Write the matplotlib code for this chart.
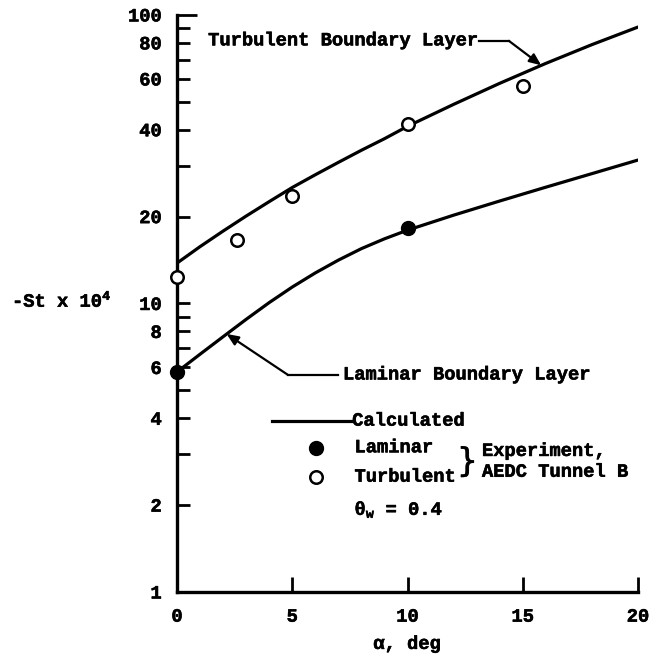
import numpy as np
import matplotlib
matplotlib.use("Agg")
import matplotlib.pyplot as plt
import matplotlib.patheffects as pe
from matplotlib.text import Text
from matplotlib.ticker import FixedLocator, FixedFormatter, NullLocator

plt.rcParams['font.family'] = ['Liberation Mono', 'DejaVu Sans Mono']
plt.rcParams['font.weight'] = 'bold'
plt.rcParams['axes.labelweight'] = 'bold'
plt.rcParams['mathtext.fontset'] = 'custom'
plt.rcParams['mathtext.rm'] = 'Liberation Mono:bold'
plt.rcParams['mathtext.it'] = 'Liberation Mono:bold:italic'
plt.rcParams['mathtext.bf'] = 'Liberation Mono:bold'
plt.rcParams['mathtext.default'] = 'regular'

# Calculated Stanton number (x 10^4) vs angle of attack
alpha_calc = [0, 1, 2, 3, 4, 5, 6, 7, 8, 9, 10, 12, 14, 16, 18, 20]
st_turb_calc = [13.80, 15.74, 17.82, 20.09, 22.54, 25.23, 27.93, 30.83, 33.96,
                37.24, 41.11, 48.98, 57.94, 67.92, 78.89, 90.78]
st_lam_calc = [5.79, 6.67, 7.67, 8.81, 10.07, 11.40, 12.76, 14.13, 15.49,
               16.75, 17.95, 20.23, 22.65, 25.29, 28.18, 31.41]

# Experiment, AEDC Tunnel B
alpha_lam_exp = [0, 10]
st_lam_exp = [5.8, 18.3]
alpha_turb_exp = [0, 2.6, 5, 10, 15]
st_turb_exp = [12.4, 16.6, 23.6, 41.9, 56.7]

y_ticks = [1, 2, 3, 4, 5, 6, 7, 8, 9, 10, 20, 30, 40, 50, 60, 70, 80, 90, 100]
y_labels = ['1', '2', '', '4', '', '6', '', '8', '', '10', '20', '', '40', '',
            '60', '', '80', '', '100']
x_ticks = [0, 5, 10, 15, 20]
x_labels = ['0', '5', '10', '15', '20']

FS = 13.5
LW = 2.3

fig = plt.figure(figsize=(6.52, 6.55), dpi=100)
ax = fig.add_axes([0.2715, 0.0962, 0.707, 0.881])
ax.set_yscale('log')
ax.set_xlim(0, 20)
ax.set_ylim(1, 100)

ax.plot(alpha_calc, st_turb_calc, color='black', lw=LW, solid_capstyle='round',
        solid_joinstyle='round', zorder=3)
ax.plot(alpha_calc, st_lam_calc, color='black', lw=LW, solid_capstyle='round',
        solid_joinstyle='round', zorder=3)
ax.plot(alpha_lam_exp, st_lam_exp, 'o', ms=10, mfc='black', mec='black', clip_on=False, zorder=4)
ax.plot(alpha_turb_exp, st_turb_exp, 'o', ms=9, mfc='white', mec='black', mew=1.8,
        clip_on=False, zorder=4)

for s in ['top', 'right']:
    ax.spines[s].set_visible(False)
for s in ['left', 'bottom']:
    ax.spines[s].set_linewidth(2.4)

ax.yaxis.set_major_locator(FixedLocator(y_ticks))
ax.yaxis.set_major_formatter(FixedFormatter(y_labels))
ax.yaxis.set_minor_locator(NullLocator())
ax.xaxis.set_major_locator(FixedLocator(x_ticks))
ax.xaxis.set_major_formatter(FixedFormatter(x_labels))
ax.tick_params(axis='y', direction='in', length=9.5, width=2.0, pad=11, labelsize=FS)
ax.tick_params(axis='x', direction='in', length=11, width=2.0, pad=12, labelsize=FS)
ax.yaxis.get_major_ticks()[-1].tick1line.set_markersize(14.5)
ax.xaxis.get_major_ticks()[0].tick1line.set_markersize(0)

ax.set_xlabel(r'$\alpha$, deg', fontsize=FS, labelpad=6)
ax.set_ylabel('-St x 10$^4$', fontsize=FS, rotation=0, ha='left', va='center')
ax.yaxis.set_label_coords(-0.358, 0.505)

# Curve labels with leader arrows
tip_t = 15.8
ax.text(1.35, 81.3, 'Turbulent Boundary Layer', fontsize=FS, va='center', ha='left')
ax.plot([13.1, 14.4], [81.3, 81.3], color='black', lw=1.6)
ax.annotate('', xy=(tip_t, np.interp(tip_t, alpha_calc, st_turb_calc)), xytext=(14.4, 81.3),
            arrowprops=dict(arrowstyle='-|>,head_length=0.7,head_width=0.3', color='black',
                            lw=1.6, shrinkA=0, shrinkB=0))

tip_l = 2.15
ax.text(7.2, 5.65, 'Laminar Boundary Layer', fontsize=FS, va='center', ha='left')
ax.plot([4.82, 7.0], [5.65, 5.65], color='black', lw=1.6)
ax.annotate('', xy=(tip_l, np.interp(tip_l, alpha_calc, st_lam_calc)), xytext=(4.82, 5.65),
            arrowprops=dict(arrowstyle='-|>,head_length=0.7,head_width=0.3', color='black',
                            lw=1.6, shrinkA=0, shrinkB=0))

# Key
ax.plot([4.12, 7.6], [3.91, 3.91], color='black', lw=LW)
ax.text(7.6, 3.91, 'Calculated', fontsize=FS, va='center', ha='left')
ax.plot([6.03], [3.16], 'o', ms=10, mfc='black', mec='black')
ax.text(7.7, 3.16, 'Laminar', fontsize=FS, va='center', ha='left')
ax.plot([6.03], [2.50], 'o', ms=9, mfc='white', mec='black', mew=1.8)
ax.text(7.7, 2.50, 'Turbulent', fontsize=FS, va='center', ha='left')
ax.text(12.6, 2.82, '}', fontsize=24, va='center', ha='center', fontweight='normal',
        family='DejaVu Sans')
ax.text(13.23, 3.07, 'Experiment,', fontsize=FS, va='center', ha='left')
ax.text(13.23, 2.60, 'AEDC Tunnel B', fontsize=FS, va='center', ha='left')
ax.text(7.7, 1.925, r'$\theta_w$ = 0.4', fontsize=FS, va='center', ha='left')

# Slightly heavier strokes for all lettering
for t in fig.findobj(Text):
    t.set_path_effects([pe.withStroke(linewidth=0.4, foreground='black')])

fig.savefig('out.png', dpi=100)
